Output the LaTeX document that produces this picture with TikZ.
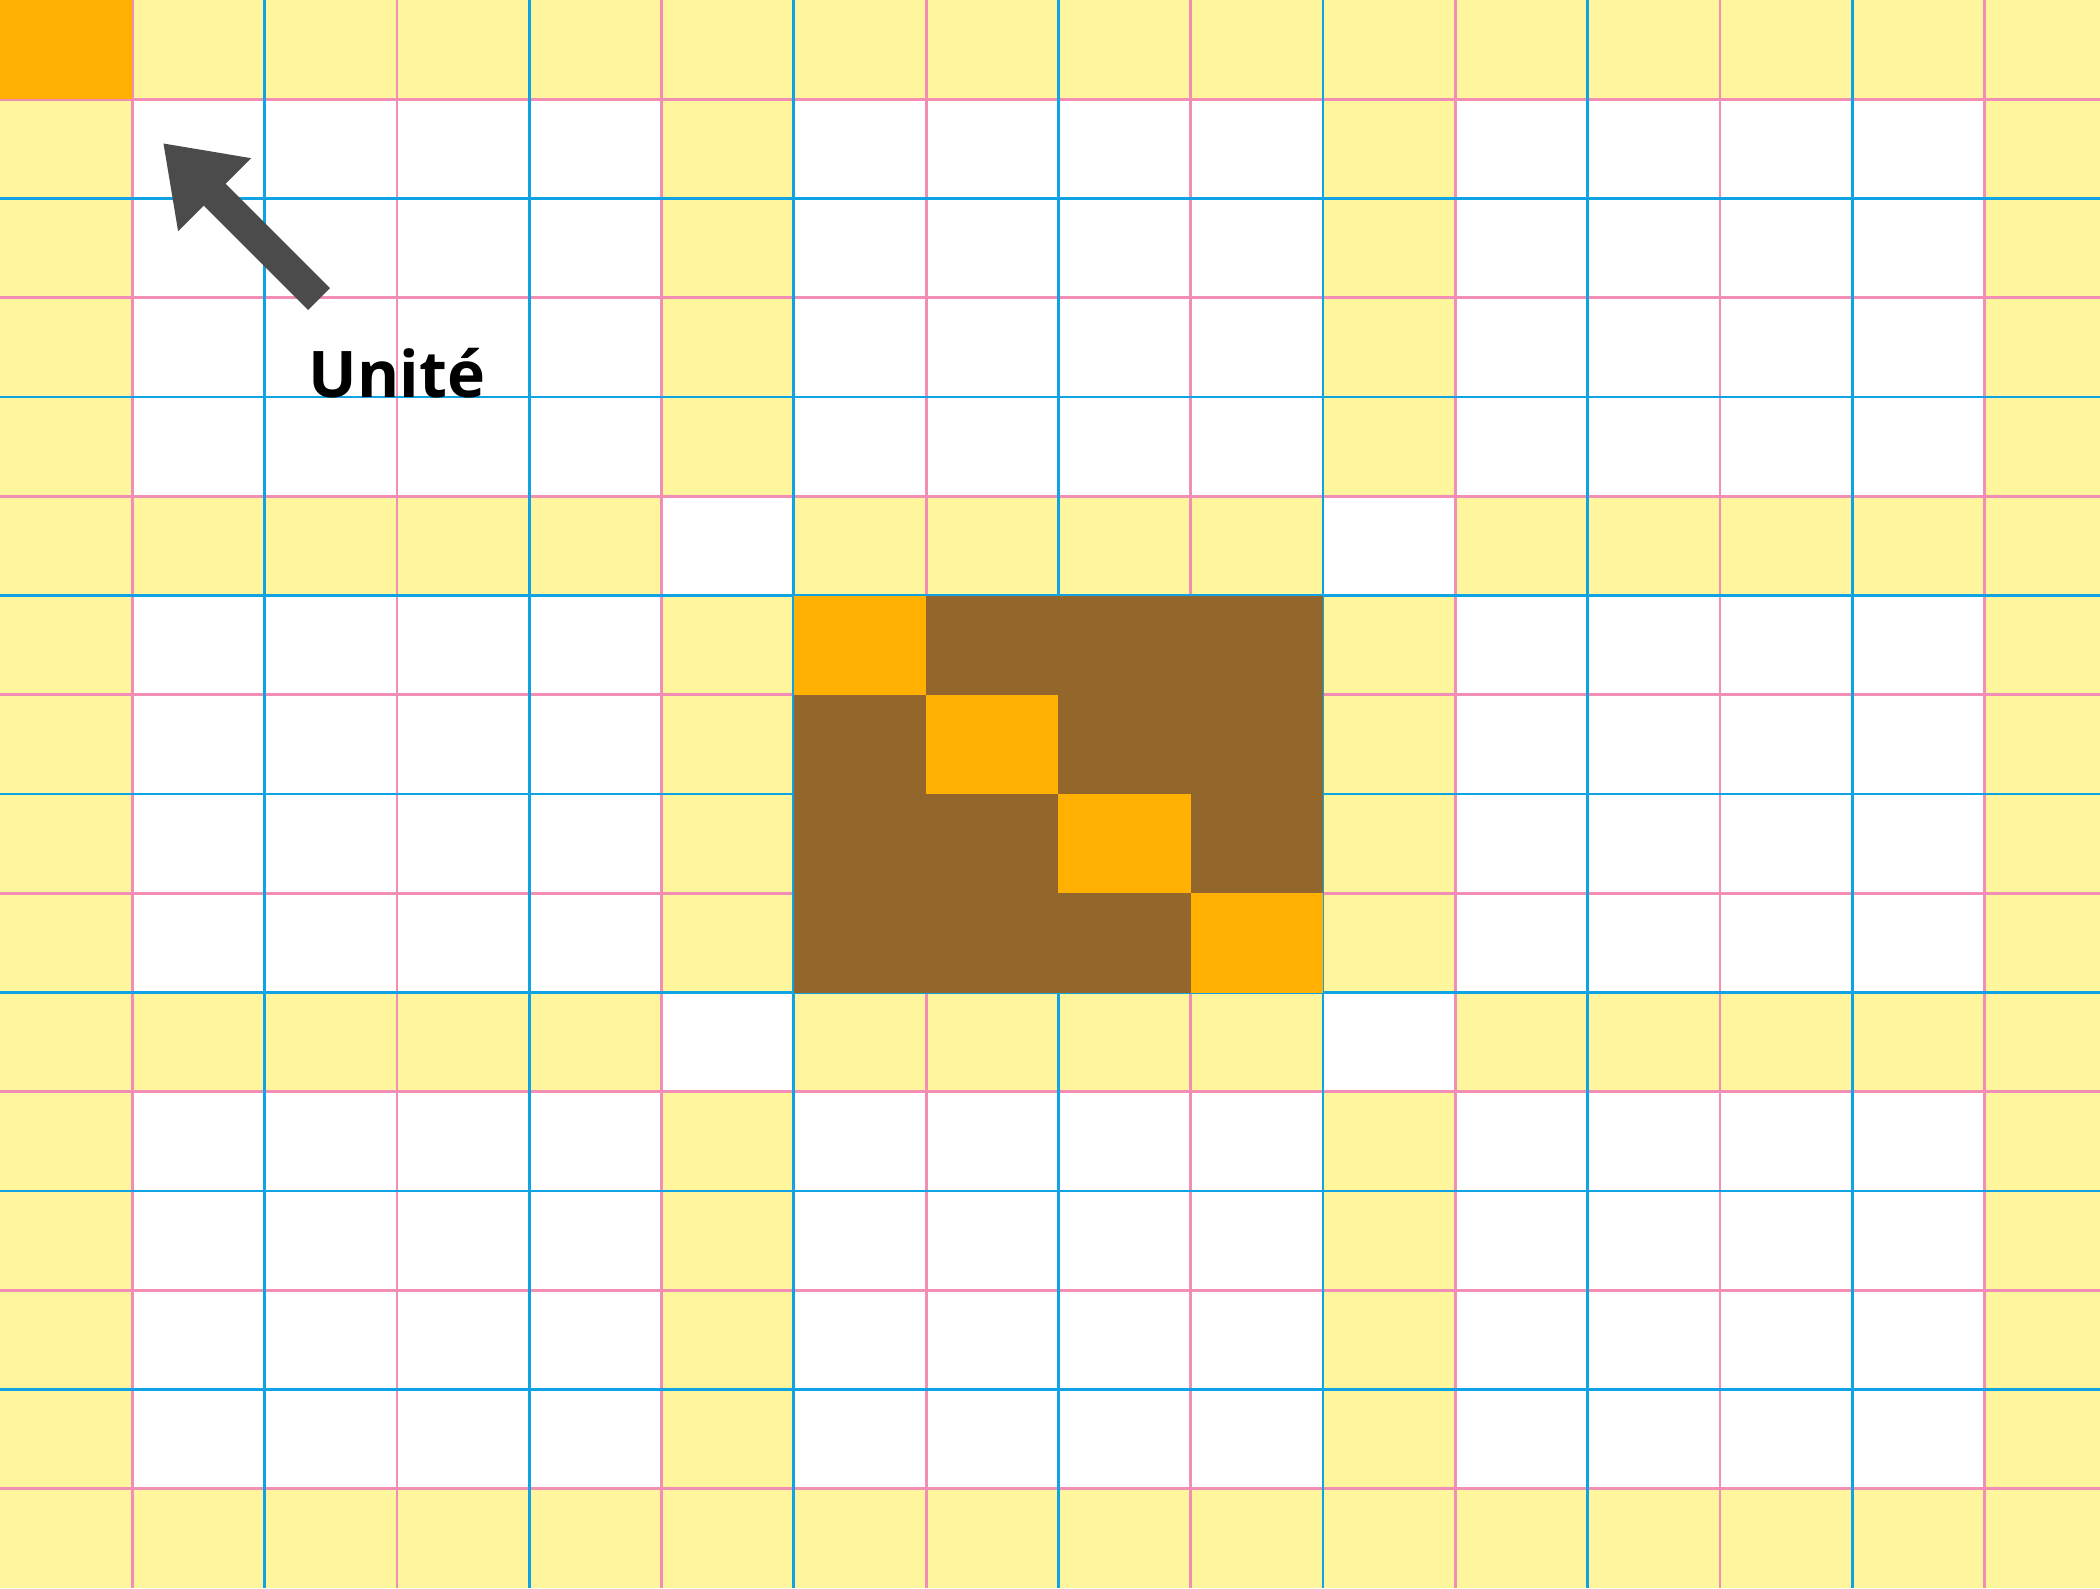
\documentclass[tikz,border=0pt]{standalone}
\usepackage{fontspec}
\setsansfont{Open Sans}
\usetikzlibrary{arrows.meta}
\definecolor{pad}{HTML}{FFF59D}
\definecolor{gold}{HTML}{FFB000}
\definecolor{bark}{HTML}{93672B}
\definecolor{lineblue}{HTML}{0FA3E3}
\definecolor{linepink}{HTML}{F28DB5}
\definecolor{pointer}{HTML}{4B4B4B}
\tikzset{
  pinkline/.style={linepink,line width=0.8pt},
  blueline/.style={lineblue,line width=0.8pt},
  unitlabel/.style={font=\sffamily\bfseries\fontsize{18.3}{18.3}\selectfont,anchor=base,inner sep=0pt}
}
\def\W{15.873}

\begin{document}
\begin{tikzpicture}[x=1.323cm,y=-0.9925cm]
\useasboundingbox (0,0) rectangle (\W,16);
% yellow bands
\foreach \r in {0,5,10,15}{\fill[pad] (0,\r) rectangle (\W,\r+1);}
\foreach \c in {0,5,10}{\fill[pad] (\c,0) rectangle (\c+1,16);}
\fill[pad] (15,0) rectangle (\W,16);
\foreach \c in {5,10}{\foreach \r in {5,10}{\fill[white] (\c,\r) rectangle (\c+1,\r+1);}}
% grid
\foreach \i in {1,3,...,15}{\draw[pinkline] (\i,0)--(\i,16); \draw[pinkline] (0,\i)--(\W,\i);}
\foreach \i in {2,4,...,14}{\draw[blueline] (\i,0)--(\i,16); \draw[blueline] (0,\i)--(\W,\i);}
% unit square and block
\fill[gold] (0,0) rectangle (1,1);
\fill[bark] (6,6) rectangle (10,10);
\foreach \k in {6,...,9}{\fill[gold] (\k,\k) rectangle (\k+1,\k+1);}
% pointer
\coordinate (tail) at (2.411,3.013);
\coordinate (tip) at (1.232,1.441);
\draw[pointer,line width=0.31cm,-{Triangle[length=0.73cm,width=0.98cm]}] (tail)--(tip);
\node[unitlabel] (unit) at (3.0,4) {Unité};
\end{tikzpicture}
\end{document}
